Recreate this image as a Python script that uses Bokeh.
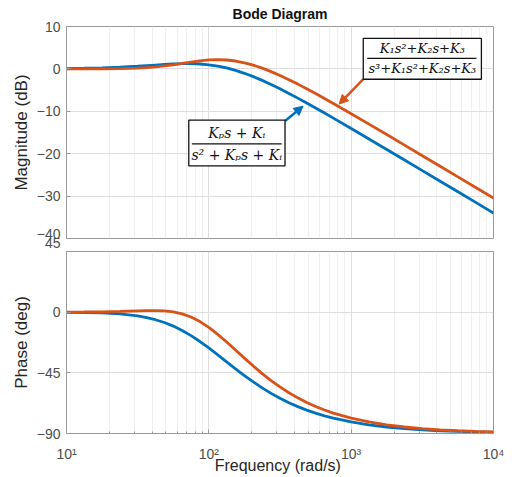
from bokeh.plotting import figure
from bokeh.layouts import column
from bokeh.models import Range1d, FixedTicker, Label, BoxAnnotation, Arrow, NormalHead
from bokeh.embed import file_html
from bokeh.resources import INLINE

# ---- data (frequency in rad/s) ----
freq = [10, 13.34, 17.78, 23.71, 31.62, 36.52, 42.17, 48.70, 56.23, 64.94, 74.99, 86.60,
        100, 115.5, 133.4, 154.0, 177.8, 205.4, 237.1, 273.8, 316.2, 365.2, 421.7, 487.0,
        562.3, 649.4, 749.9, 1000, 1334, 1778, 2371, 3162, 4217, 5623, 7499, 10000]
mag_pi = [0.08, 0.15, 0.25, 0.41, 0.63, 0.77, 0.91, 1.05, 1.16, 1.24, 1.24, 1.16,
          0.97, 0.66, 0.22, -0.35, -1.04, -1.83, -2.71, -3.67, -4.70, -5.78, -6.89, -8.04,
          -9.22, -10.41, -11.61, -14.06, -16.52, -19.00, -21.49, -23.99, -26.48, -28.98, -31.48, -33.98]
mag_3rd = [0.00, 0.01, 0.02, 0.07, 0.19, 0.30, 0.47, 0.69, 0.97, 1.29, 1.62, 1.91,
           2.11, 2.18, 2.10, 1.86, 1.44, 0.88, 0.18, -0.64, -1.55, -2.54, -3.59, -4.69,
           -5.82, -6.98, -8.16, -10.57, -13.02, -15.49, -17.98, -20.47, -22.97, -25.46, -27.96, -30.46]
ph_pi = [-0.11, -0.26, -0.59, -1.31, -2.79, -3.98, -5.60, -7.69, -10.34, -13.59, -17.41, -21.78,
         -26.57, -31.62, -36.83, -41.99, -46.99, -51.75, -56.17, -60.23, -63.88, -67.17, -70.08, -72.65,
         -74.91, -76.90, -78.62, -81.44, -83.57, -85.17, -86.38, -87.28, -87.96, -88.47, -88.85, -89.14]
ph_3rd = [0.05, 0.13, 0.26, 0.54, 0.94, 1.12, 1.15, 0.93, 0.21, -1.25, -3.60, -6.98,
          -11.31, -16.43, -22.12, -28.07, -34.08, -39.98, -45.54, -50.74, -55.46, -59.74, -63.57, -66.95,
          -69.95, -72.56, -74.84, -78.60, -81.43, -83.57, -85.17, -86.38, -87.29, -87.96, -88.47, -88.85]

x_major = [10, 100, 1000, 10000]
x_minor = [m * d for d in (10, 100, 1000) for m in range(2, 10)]
x_labels = ["10¹", "10²", "10³", "10⁴"]
mag_ticks = [-40, -30, -20, -10, 0, 10]
ph_ticks = [-90, -45, 0, 45]

BLUE = "#0072BD"
ORANGE = "#D95319"
TICK_COL = "#4d4d4d"
AXIS_COL = "#9a9a9a"
FONT = "Liberation Sans"
TICK_SIZE = "14px"

x_range = Range1d(10, 10000)


def style(p, yticks, ylabel):
    p.background_fill_color = "white"
    p.border_fill_color = "white"
    p.outline_line_color = AXIS_COL
    p.xaxis.ticker = FixedTicker(ticks=x_major, minor_ticks=x_minor)
    p.yaxis.ticker = FixedTicker(ticks=yticks)
    for ax in (p.xaxis[0], p.yaxis[0]):
        ax.axis_line_color = AXIS_COL
        ax.major_tick_line_color = AXIS_COL
        ax.minor_tick_line_color = AXIS_COL
        ax.major_tick_in = 4
        ax.major_tick_out = 0
        ax.minor_tick_in = 2
        ax.minor_tick_out = 0
        ax.major_label_text_font = FONT
        ax.major_label_text_font_size = TICK_SIZE
        ax.major_label_text_color = TICK_COL
        ax.axis_label_text_font = FONT
        ax.axis_label_text_font_style = "normal"
        ax.axis_label_text_color = "#262626"
    p.yaxis.minor_tick_line_color = None
    p.yaxis.axis_label = ylabel
    p.yaxis.axis_label_text_font_size = "17px"
    p.yaxis.axis_label_standoff = 3
    p.yaxis.major_label_standoff = 6
    p.xgrid.ticker = FixedTicker(ticks=x_major, minor_ticks=x_minor)
    p.ygrid.ticker = FixedTicker(ticks=yticks)
    p.xgrid.grid_line_color = "#dedede"
    p.xgrid.minor_grid_line_color = "#f0f0f0"
    p.ygrid.grid_line_color = "#dedede"


# ---------------- magnitude ----------------
p1 = figure(width=510, height=251, x_axis_type="log", x_range=x_range,
            y_range=Range1d(-40, 10), output_backend="svg", toolbar_location=None,
            min_border_left=66, min_border_right=17, min_border_top=0, min_border_bottom=13)
style(p1, mag_ticks, "Magnitude (dB)")
p1.title.text = "Bode Diagram"
p1.title.align = "center"
p1.title.vertical_align = "middle"
p1.title.text_font = FONT
p1.title.text_font_size = "14px"
p1.title.text_font_style = "bold"
p1.title.text_color = "#111111"
p1.title.standoff = 8
p1.xaxis.visible = False
# the phase axis' top label "45" overlaps "-40" just as in the reference;
# it is drawn as the second line of the -40 label so that both stay on the canvas
p1.yaxis.major_label_overrides = {mag_ticks[0]: "−40\n" + str(ph_ticks[-1])}
p1.yaxis.major_label_text_line_height = 0.57

p1.line(freq, mag_pi, line_color=BLUE, line_width=2.8)
p1.line(freq, mag_3rd, line_color=ORANGE, line_width=2.8)

# annotation 1 (PI closed loop)
p1.add_layout(Arrow(end=NormalHead(size=9, fill_color=BLUE, line_color=BLUE),
                    x_start=343, y_start=-12.3, x_end=459, y_end=-8.8,
                    line_color=BLUE, line_width=2.5))
p1.add_layout(BoxAnnotation(left=72.3, right=343, top=-12.07, bottom=-22.86,
                            fill_color="white", fill_alpha=1.0,
                            line_color="#111111", line_width=1.3, line_alpha=1.0))
p1.add_layout(Label(x=157, y=-15.1, text="Kₚs + Kᵢ", text_align="center",
                    text_baseline="middle", text_font="DejaVu Serif",
                    text_font_style="italic", text_font_size="14px", text_color="#111111"))
p1.add_layout(Arrow(start=None, end=None, x_start=76, y_start=-17.7, x_end=325, y_end=-17.7,
                    line_color="#111111", line_width=1.2))
p1.add_layout(Label(x=157, y=-20.4, text="s² + Kₚs + Kᵢ", text_align="center",
                    text_baseline="middle", text_font="DejaVu Serif",
                    text_font_style="italic", text_font_size="14px", text_color="#111111"))

# annotation 2 (third order)
p1.add_layout(Arrow(end=NormalHead(size=9, fill_color=ORANGE, line_color=ORANGE),
                    x_start=1216, y_start=-2.4, x_end=823, y_end=-8.3,
                    line_color=ORANGE, line_width=2.5))
p1.add_layout(BoxAnnotation(left=1216, right=8222, top=7.18, bottom=-2.44,
                            fill_color="white", fill_alpha=1.0,
                            line_color="#111111", line_width=1.3, line_alpha=1.0))
p1.add_layout(Label(x=3162, y=4.8, text="K₁s²+K₂s+K₃", text_align="center",
                    text_baseline="middle", text_font="DejaVu Serif",
                    text_font_style="italic", text_font_size="13px", text_color="#111111"))
p1.add_layout(Arrow(start=None, end=None, x_start=1297, y_start=2.5, x_end=7586, y_end=2.5,
                    line_color="#111111", line_width=1.2))
p1.add_layout(Label(x=3162, y=0.1, text="s³+K₁s²+K₂s+K₃", text_align="center",
                    text_baseline="middle", text_font="DejaVu Serif",
                    text_font_style="italic", text_font_size="13px", text_color="#111111"))

# ---------------- phase ----------------
p2 = figure(width=510, height=225, x_axis_type="log", x_range=x_range,
            y_range=Range1d(-90, 45), output_backend="svg", toolbar_location=None,
            min_border_left=66, min_border_right=17, min_border_top=0, min_border_bottom=2)
style(p2, ph_ticks, "Phase (deg)")
p2.yaxis.ticker = FixedTicker(ticks=[t for t in ph_ticks if t < 45])
p2.xaxis.major_label_overrides = {t: s for t, s in zip(x_major, x_labels)}
p2.xaxis.axis_label = "Frequency  (rad/s)"
p2.xaxis.axis_label_text_font_size = "16px"
p2.xaxis.axis_label_standoff = -8
p2.xaxis.major_label_standoff = 12

p2.line(freq, ph_pi, line_color=BLUE, line_width=2.8)
p2.line(freq, ph_3rd, line_color=ORANGE, line_width=2.8)

layout = column(p1, p2, spacing=0)
open("out.html", "w").write(file_html(layout, INLINE))
